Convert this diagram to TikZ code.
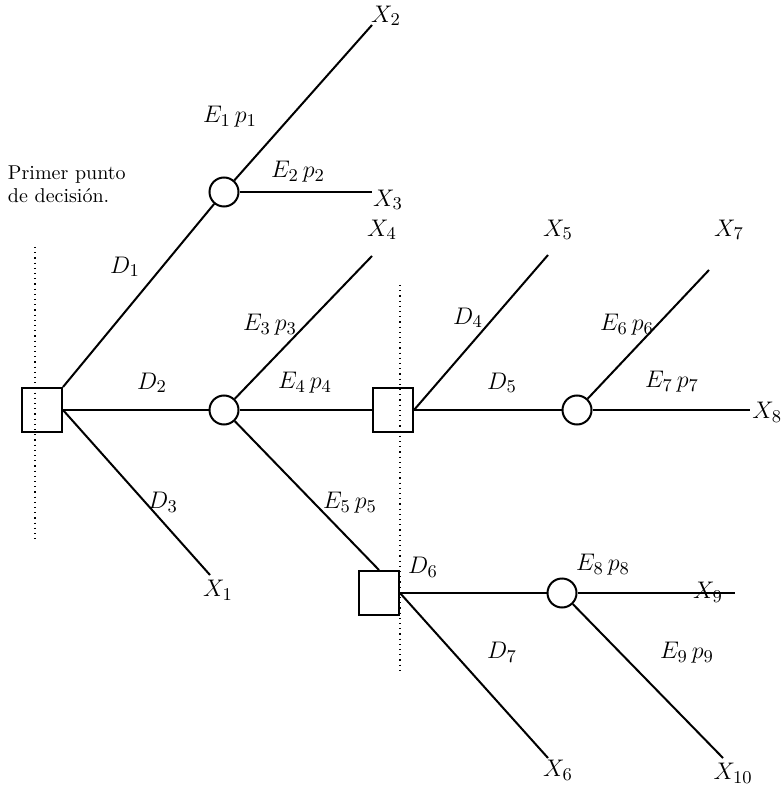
\documentclass[tikz,border=0pt]{standalone}

\begin{document}
\begin{tikzpicture}[
                x=0.5pt, y=-0.5pt,
                line width=1pt,
                decision/.style={rectangle,draw,minimum width=20pt,minimum height=22pt,inner sep=0pt},
                chance/.style={circle,draw,minimum size=14.5pt,inner sep=0pt},
                lab/.style={inner sep=1pt,font=\fontsize{12.5}{15}\selectfont},
                guide/.style={dotted,line width=0.6pt}
            ]
            \useasboundingbox (0,0) rectangle (783,785);

            % decision and chance points
            \node[decision] (S1) at (42,410) {};
            \node[chance] (C1) at (224,192) {};
            \node[chance] (C2) at (224,410) {};
            \node[decision] (S2) at (393,410) {};
            \node[chance] (C3) at (577,410) {};
            \node[decision] (S3) at (379,593) {};
            \node[chance] (C4) at (562,593) {};

            % free ends
            \coordinate (e2) at (372,25);
            \coordinate (e3) at (372,192);
            \coordinate (e4) at (372,256);
            \coordinate (e1) at (210,575);
            \coordinate (e5) at (548,255);
            \coordinate (e7) at (709,270);
            \coordinate (e8) at (750,410);
            \coordinate (e9) at (735,593);
            \coordinate (e6) at (548,758);
            \coordinate (e10) at (723,758);

            % branches
            \draw (S1.north east) -- (C1);
            \draw (S1) -- (C2);
            \draw (S1.east) -- (e1);
            \draw (C1) -- (e2);
            \draw (C1) -- (e3);
            \draw (C2) -- (e4);
            \draw (C2) -- (S2);
            \draw (C2) -- (S3.north);
            \draw (S2.east) -- (e5);
            \draw (S2) -- (C3);
            \draw (C3) -- (e7);
            \draw (C3) -- (e8);
            \draw (S3) -- (C4);
            \draw (S3.east) -- (e6);
            \draw (C4) -- (e9);
            \draw (C4) -- (e10);

            % dotted guides
            \draw[guide] (35,247) coordinate (g1a) -- (35,543) coordinate (g1b);
            \draw[guide] (400,285) coordinate (g2a) -- (400,672) coordinate (g2b);

            % labels
            \node[lab,anchor=north west,align=left,font=\fontsize{10}{11.5}\selectfont] (first) at (5,163) {Primer punto\\de decisión.};
            \node[lab] (lD1) at (125,267) {$D_1$};
            \node[lab] (lD2) at (152,383) {$D_2$};
            \node[lab] (lD3) at (163,502) {$D_3$};
            \node[lab] (lE1) at (230,117) {$E_1\,p_1$};
            \node[lab] (lE2) at (298,172) {$E_2\,p_2$};
            \node[lab] (lE3) at (270,325) {$E_3\,p_3$};
            \node[lab] (lE4) at (305,383) {$E_4\,p_4$};
            \node[lab] (lE5) at (350,503) {$E_5\,p_5$};
            \node[lab] (lD4) at (468,318) {$D_4$};
            \node[lab] (lD5) at (502,383) {$D_5$};
            \node[lab] (lE6) at (627,325) {$E_6\,p_6$};
            \node[lab] (lE7) at (672,382) {$E_7\,p_7$};
            \node[lab] (lD6) at (423,567) {$D_6$};
            \node[lab] (lE8) at (603,565) {$E_8\,p_8$};
            \node[lab] (lD7) at (502,652) {$D_7$};
            \node[lab] (lE9) at (687,653) {$E_9\,p_9$};

            % outcomes
            \node[lab] (X1) at (218,590) {$X_1$};
            \node[lab] (X2) at (386,16) {$X_2$};
            \node[lab] (X3) at (388,200) {$X_3$};
            \node[lab] (X4) at (382,230) {$X_4$};
            \node[lab] (X5) at (558,230) {$X_5$};
            \node[lab] (X6) at (558,770) {$X_6$};
            \node[lab] (X7) at (729,230) {$X_7$};
            \node[lab,anchor=east,inner sep=0pt] (X8) at (783,412) {$X_8$};
            \node[lab] (X9) at (708,592) {$X_9$};
            \node[lab] (X10) at (733,773) {$X_{10}$};

        \end{tikzpicture}
\end{document}
